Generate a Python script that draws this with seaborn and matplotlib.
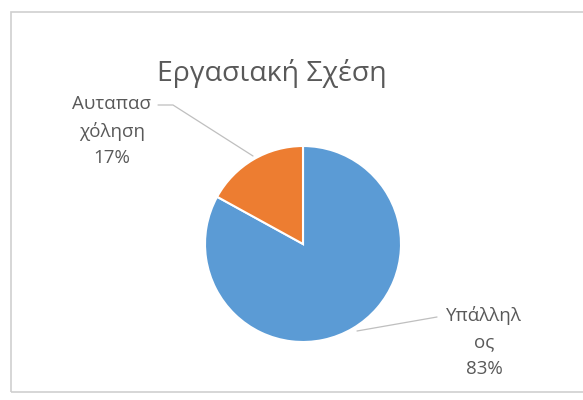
import textwrap
import matplotlib
matplotlib.use("Agg")
import matplotlib.pyplot as plt
from matplotlib.patches import Rectangle
import seaborn as sns

# Data
categories = ["Υπάλληλος", "Αυταπασχόληση"]
values = [83, 17]
title = "Εργασιακή Σχέση"

sns.set_theme(style="white")
plt.rcParams["font.family"] = ["Open Sans", "DejaVu Sans"]

palette = ["#5B9BD5", "#ED7D31"]
text_color = "#595959"

W, H = 583, 400
fig = plt.figure(figsize=(W / 100, H / 100), dpi=100)
fig.patch.set_facecolor("white")

# Chart area frame
fig.patches.append(Rectangle((11 / W, 8 / H), 1.2, (392 - 12) / H,
                             transform=fig.transFigure, fill=False,
                             edgecolor="#CFCFCF", linewidth=1.2))

# Pie placement (pixel centre and radius)
cx, cy, r = 303, 244, 98
ax = fig.add_axes([(cx - r) / W, (H - cy - r) / H, 2 * r / W, 2 * r / H])

wedges, _ = ax.pie(values, colors=palette, startangle=90, counterclock=False,
                   radius=1.0, wedgeprops=dict(edgecolor="white", linewidth=1.5))
ax.set_xlim(-1, 1)
ax.set_ylim(-1, 1)
ax.set_aspect("equal")
ax.axis("off")


def px(x, y):
    """Pixel coordinates to data coordinates of the pie axes."""
    return (x - cx) / r, (cy - y) / r


total = sum(values)
labels = ["\n".join(textwrap.wrap(c, 7)) + f"\n{round(v / total * 100)}%"
          for c, v in zip(categories, values)]

# Label anchors and leader paths (pixel space)
label_pos = [(484, 342), (112, 131)]
leaders = [[(357, 331), (437, 317)],
           [(253, 156), (173, 105), (158, 105)]]

for lab, pos, path in zip(labels, label_pos, leaders):
    x, y = px(*pos)
    ax.text(x, y, lab, ha="center", va="center", fontsize=13.5,
            color=text_color, linespacing=1.62)
    xs, ys = zip(*[px(*p) for p in path])
    ax.plot(xs, ys, color="#BFBFBF", linewidth=0.9, clip_on=False)

fig.text(272 / W, 1 - 73 / H, title, ha="center", va="center",
         fontsize=20.5, color=text_color)

fig.savefig("out.png", dpi=100, facecolor="white")
